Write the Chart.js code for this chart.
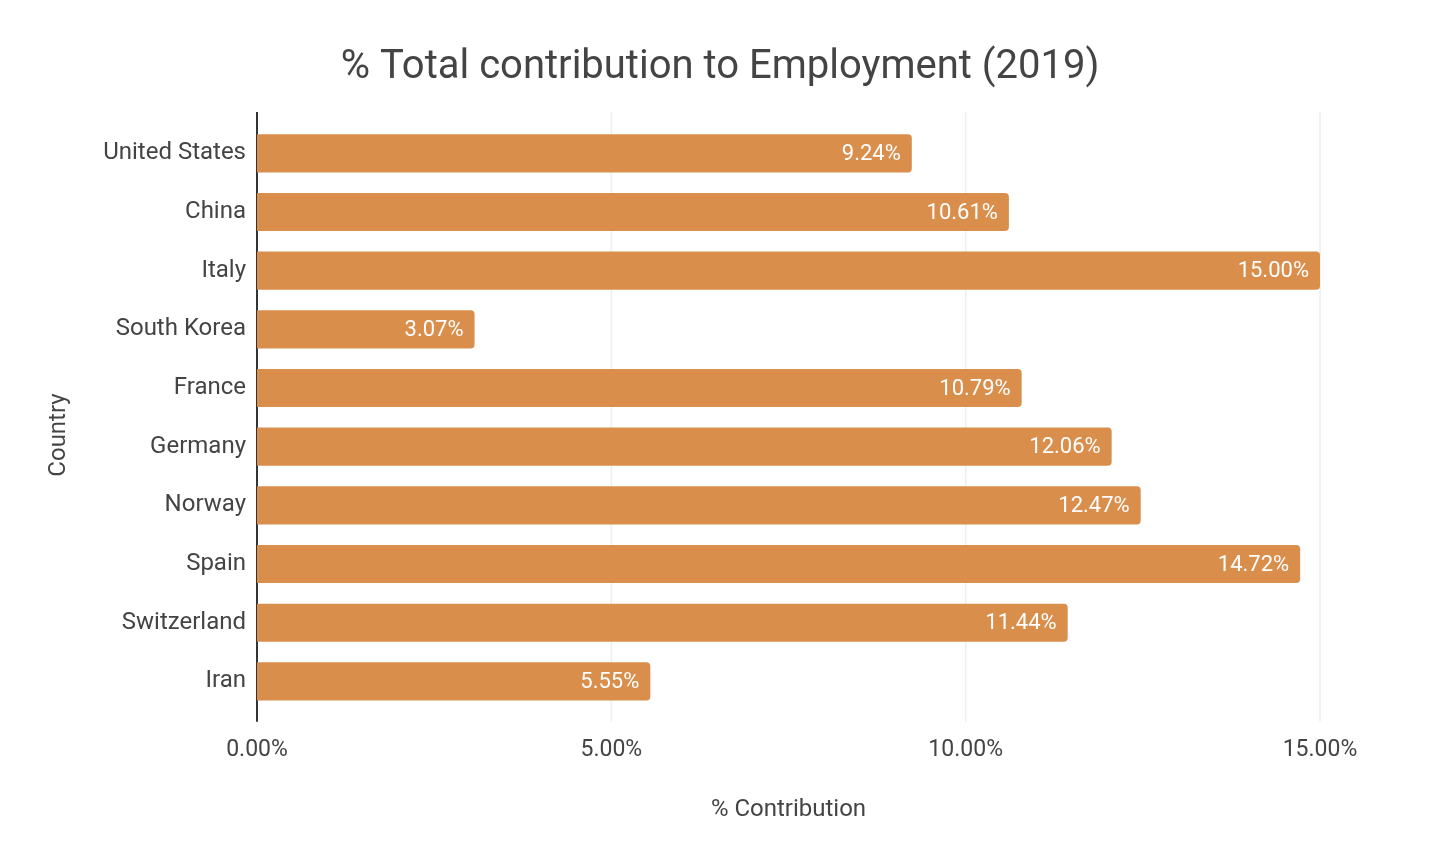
<!DOCTYPE html>
<html>
<head>
<meta charset="utf-8">
<script src="https://cdn.jsdelivr.net/npm/chart.js@4.4.0/dist/chart.umd.min.js"></script>
<style>
  html, body { margin: 0; padding: 0; background: #fff; }
  #wrap { width: 1440px; height: 860px; }
</style>
</head>
<body>
<div id="wrap"><canvas id="employmentChart"></canvas></div>
<script>
// chart data
const countries = ['United States', 'China', 'Italy', 'South Korea', 'France', 'Germany', 'Norway', 'Spain', 'Switzerland', 'Iran'];
const contribution = [9.24, 10.61, 15.00, 3.07, 10.79, 12.06, 12.47, 14.72, 11.44, 5.55];
const xTicks = [0, 5, 10, 15];

const barColor = '#D98E4C';
const textColor = '#444444';

// grid lines + axis line, drawn a bit past the category band like the original
const gridPlugin = {
    id: 'gridPlugin',
    beforeDatasetsDraw(chart) {
        const { ctx, chartArea, scales } = chart;
        const top = chartArea.top - 12;
        const bottom = chartArea.bottom + 11;
        ctx.save();
        xTicks.forEach(v => {
            if (v === 0) return;
            const x = scales.x.getPixelForValue(v);
            ctx.strokeStyle = '#eeeeee';
            ctx.lineWidth = 1.5;
            ctx.beginPath();
            ctx.moveTo(x, top);
            ctx.lineTo(x, bottom);
            ctx.stroke();
        });
        const x0 = scales.x.getPixelForValue(0);
        ctx.strokeStyle = '#333333';
        ctx.lineWidth = 2;
        ctx.beginPath();
        ctx.moveTo(x0, top);
        ctx.lineTo(x0, bottom);
        ctx.stroke();
        ctx.restore();
    }
};

// value labels inside the bar end, plus the y axis title
const valueLabels = {
    id: 'valueLabels',
    afterDatasetsDraw(chart) {
        const { ctx } = chart;
        const meta = chart.getDatasetMeta(0);
        ctx.save();
        ctx.fillStyle = '#ffffff';
        ctx.font = '22px Roboto';
        ctx.textAlign = 'right';
        ctx.textBaseline = 'middle';
        meta.data.forEach((bar, i) => {
            ctx.fillText(contribution[i].toFixed(2) + '%', bar.x - 11, bar.y + 1);
        });
        ctx.restore();
    },
    afterDraw(chart) {
        const { ctx } = chart;
        ctx.save();
        ctx.translate(59, 435);
        ctx.rotate(-Math.PI / 2);
        ctx.fillStyle = textColor;
        ctx.font = '24px Roboto';
        ctx.textAlign = 'center';
        ctx.textBaseline = 'middle';
        ctx.fillText('Country', 0, 0);
        ctx.restore();
    }
};

const canvas = document.getElementById('employmentChart');
new Chart(canvas, {
    type: 'bar',
    data: {
        labels: countries,
        datasets: [{
            data: contribution,
            backgroundColor: barColor,
            borderRadius: 4,
            barPercentage: 0.65,
            categoryPercentage: 1.0
        }]
    },
    options: {
        indexAxis: 'y',
        responsive: true,
        maintainAspectRatio: false,
        animation: false,
        layout: {
            padding: 0
        },
        plugins: {
            legend: { display: false },
            tooltip: { enabled: false },
            title: {
                display: true,
                text: '% Total contribution to Employment (2019)',
                color: textColor,
                font: { family: 'Roboto', size: 40, weight: 'normal' },
                padding: { top: 44, bottom: 32 }
            }
        },
        scales: {
            x: {
                min: 0,
                max: 15,
                afterBuildTicks: scale => {
                    scale.ticks = xTicks.map(v => ({ value: v }));
                },
                afterFit: scale => { scale.height = 149.3; },
                ticks: {
                    color: textColor,
                    font: { family: 'Roboto', size: 23 },
                    padding: 26,
                    callback: v => v.toFixed(2) + '%'
                },
                grid: { display: false, drawTicks: false },
                border: { display: false },
                title: {
                    display: true,
                    text: '% Contribution',
                    color: textColor,
                    font: { family: 'Roboto', size: 24 },
                    padding: { top: 32, bottom: 36 }
                }
            },
            y: {
                afterFit: scale => { scale.width = 257; },
                ticks: {
                    color: textColor,
                    font: { family: 'Roboto', size: 24 },
                    padding: 11
                },
                grid: { display: false, drawTicks: false },
                border: { display: false }
            },
            yRight: {
                type: 'category',
                position: 'right',
                afterFit: scale => { scale.width = 120; },
                ticks: { display: false },
                grid: { display: false, drawTicks: false },
                border: { display: false }
            }
        }
    },
    plugins: [gridPlugin, valueLabels]
});
</script>
</body>
</html>
